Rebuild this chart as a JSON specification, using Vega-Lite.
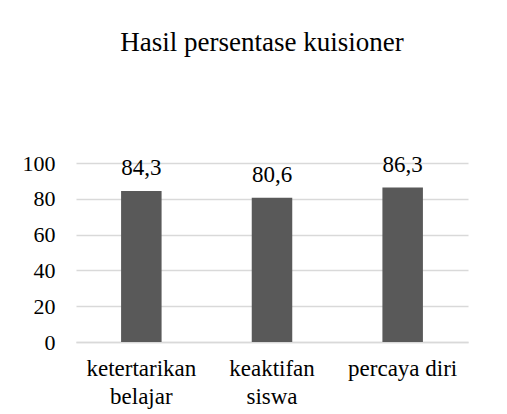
{
  "$schema": "https://vega.github.io/schema/vega-lite/v6.json",
  "width": 392,
  "height": 179,
  "autosize": {"type": "none"},
  "padding": {"left": 76, "top": 163, "right": 39, "bottom": 72},
  "background": "white",
  "title": {
    "text": "Hasil persentase kuisioner",
    "font": "Liberation Serif",
    "fontSize": 27,
    "fontWeight": "normal",
    "color": "#000000",
    "anchor": "middle",
    "offset": 95,
    "dx": -10
  },
  "data": {
    "values": [
      {"kategori": "ketertarikan belajar", "nilai": 84.3, "label": "84,3"},
      {"kategori": "keaktifan siswa", "nilai": 80.6, "label": "80,6"},
      {"kategori": "percaya diri", "nilai": 86.3, "label": "86,3"}
    ]
  },
  "encoding": {
    "x": {
      "field": "kategori",
      "type": "nominal",
      "sort": null,
      "scale": {"paddingInner": 0, "paddingOuter": 0},
      "axis": {
        "title": null,
        "labelAngle": 0,
        "labelFont": "Liberation Serif",
        "labelFontSize": 23,
        "labelColor": "#000000",
        "labelExpr": "datum.value == 'percaya diri' ? datum.value : split(datum.value, ' ')",
        "labelLineHeight": 28,
        "labelPadding": 15,
        "ticks": false,
        "domainColor": "#d9d9d9",
        "domainWidth": 1.5
      }
    },
    "y": {
      "field": "nilai",
      "type": "quantitative",
      "scale": {"domain": [0, 100], "nice": false},
      "axis": {
        "title": null,
        "values": [0, 20, 40, 60, 80, 100],
        "labelFont": "Liberation Serif",
        "labelFontSize": 22,
        "labelColor": "#000000",
        "labelPadding": 21,
        "ticks": false,
        "domain": false,
        "gridColor": "#d9d9d9",
        "gridWidth": 1.5
      }
    }
  },
  "layer": [
    {
      "mark": {"type": "bar", "color": "#595959", "width": {"band": 0.31}}
    },
    {
      "mark": {
        "type": "text",
        "font": "Liberation Serif",
        "fontSize": 23,
        "color": "#000000",
        "baseline": "alphabetic",
        "dy": -16
      },
      "encoding": {"text": {"field": "label"}}
    }
  ],
  "config": {"view": {"stroke": null}}
}
